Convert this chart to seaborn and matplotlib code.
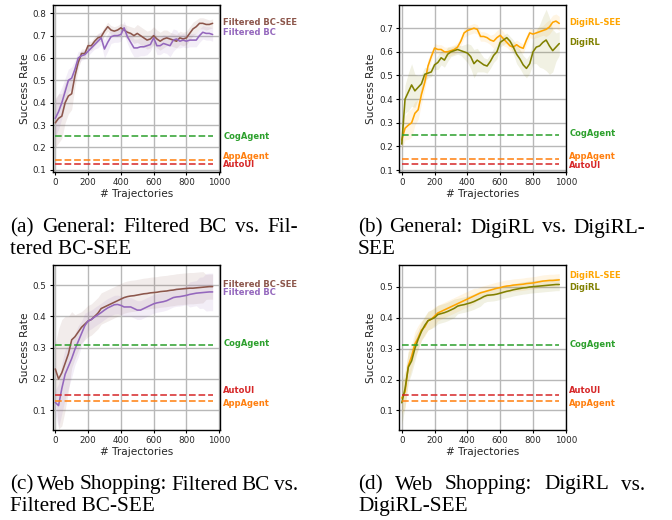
import numpy as np
import pandas as pd
import matplotlib
matplotlib.use("Agg")
import matplotlib.pyplot as plt
import matplotlib.transforms as mtransforms
import seaborn as sns

# ---------------- data ----------------
traj = np.arange(0, 980, 20)

a_see = [0.31,0.33,0.34,0.40,0.43,0.44,0.52,0.58,0.62,0.62,0.655,0.655,0.675,0.69,0.695,0.72,0.74,0.725,0.72,0.725,
         0.735,0.725,0.715,0.71,0.70,0.71,0.70,0.69,0.68,0.685,0.70,0.685,0.675,0.685,0.69,0.685,0.68,0.675,0.69,0.685,
         0.69,0.71,0.73,0.74,0.755,0.755,0.75,0.75,0.755]
a_see_sd = [0.11,0.11,0.10,0.09,0.08,0.07,0.05,0.03,0.02,0.02,0.02,0.02,0.02,0.02,0.02,0.02,0.02,0.02,0.02,0.02,
            0.02,0.025,0.03,0.03,0.035,0.04,0.04,0.04,0.04,0.04,0.04,0.04,0.04,0.04,0.035,0.03,0.03,0.03,0.03,0.03,
            0.03,0.03,0.03,0.03,0.025,0.025,0.025,0.02,0.02]
a_bc = [0.33,0.36,0.40,0.45,0.50,0.51,0.55,0.60,0.61,0.615,0.63,0.645,0.66,0.675,0.69,0.64,0.67,0.695,0.70,0.70,
        0.705,0.735,0.695,0.67,0.645,0.645,0.65,0.65,0.655,0.66,0.69,0.655,0.655,0.665,0.66,0.655,0.68,0.685,0.675,0.68,
        0.675,0.68,0.68,0.68,0.70,0.715,0.71,0.71,0.705]
a_bc_sd = [0.08,0.08,0.07,0.06,0.05,0.05,0.04,0.03,0.02,0.02,0.02,0.02,0.02,0.03,0.03,0.04,0.04,0.03,0.03,0.03,
           0.03,0.03,0.03,0.04,0.04,0.04,0.04,0.04,0.04,0.03,0.03,0.04,0.04,0.04,0.04,0.05,0.05,0.04,0.03,0.03,
           0.03,0.03,0.03,0.03,0.03,0.03,0.03,0.03,0.03]

b_see = [0.227,0.277,0.29,0.30,0.34,0.355,0.42,0.47,0.54,0.58,0.616,0.61,0.61,0.60,0.60,0.605,0.61,0.62,0.645,0.68,
         0.69,0.695,0.70,0.695,0.665,0.665,0.66,0.65,0.645,0.66,0.67,0.655,0.64,0.625,0.62,0.63,0.62,0.615,0.65,0.68,
         0.675,0.68,0.685,0.69,0.695,0.705,0.725,0.73,0.72]
b_see_sd = [0.04,0.05,0.06,0.06,0.05,0.04,0.04,0.03,0.03,0.02,0.02,0.02,0.02,0.02,0.02,0.02,0.02,0.02,0.02,0.02,
            0.02,0.02,0.02,0.02,0.02,0.02,0.02,0.02,0.03,0.03,0.03,0.03,0.02,0.02,0.02,0.02,0.02,0.02,0.02,0.02,
            0.02,0.02,0.02,0.02,0.03,0.03,0.03,0.03,0.03]
b_rl = [0.21,0.40,0.43,0.46,0.435,0.45,0.465,0.505,0.51,0.515,0.545,0.555,0.575,0.565,0.59,0.60,0.605,0.61,0.605,0.60,
        0.595,0.58,0.55,0.565,0.555,0.545,0.54,0.56,0.585,0.60,0.64,0.65,0.66,0.645,0.62,0.59,0.57,0.545,0.53,0.55,
        0.60,0.62,0.625,0.64,0.65,0.625,0.605,0.62,0.635]
b_rl_sd = [0.03,0.06,0.08,0.09,0.07,0.05,0.04,0.03,0.02,0.02,0.02,0.03,0.03,0.03,0.03,0.02,0.02,0.02,0.02,0.03,
           0.04,0.05,0.06,0.05,0.04,0.03,0.03,0.03,0.03,0.03,0.02,0.02,0.02,0.02,0.03,0.04,0.04,0.04,0.04,0.04,
           0.05,0.07,0.09,0.11,0.13,0.12,0.09,0.06,0.05]

c_see = [0.232,0.20,0.22,0.25,0.28,0.325,0.335,0.35,0.365,0.375,0.385,0.39,0.40,0.41,0.425,0.43,0.435,0.44,0.445,0.45,
         0.455,0.46,0.463,0.465,0.466,0.468,0.47,0.472,0.473,0.475,0.476,0.477,0.479,0.48,0.481,0.483,0.484,0.486,0.487,0.488,
         0.489,0.49,0.49,0.491,0.492,0.493,0.494,0.495,0.495]
c_see_sd = [0.08,0.16,0.17,0.15,0.12,0.09,0.07,0.06,0.05,0.05,0.05,0.05,0.05,0.05,0.05,0.05,0.05,0.05,0.05,0.05,
            0.05,0.05,0.05,0.05,0.05,0.05,0.05,0.05,0.05,0.05,0.05,0.05,0.05,0.05,0.05,0.05,0.05,0.05,0.05,0.05,
            0.05,0.05,0.05,0.05,0.05,0.05,0.04,0.04,0.04]
c_bc = [0.125,0.115,0.17,0.215,0.24,0.265,0.295,0.32,0.345,0.37,0.385,0.39,0.398,0.405,0.412,0.42,0.427,0.432,0.437,0.438,
        0.435,0.43,0.43,0.43,0.425,0.42,0.42,0.425,0.43,0.435,0.44,0.443,0.445,0.447,0.45,0.455,0.46,0.462,0.463,0.465,
        0.467,0.47,0.472,0.474,0.475,0.476,0.477,0.478,0.478]
c_bc_sd = [0.04,0.07,0.08,0.08,0.07,0.06,0.05,0.05,0.04,0.04,0.03,0.03,0.03,0.03,0.03,0.03,0.03,0.03,0.03,0.03,
           0.03,0.03,0.03,0.03,0.03,0.03,0.03,0.03,0.03,0.03,0.03,0.03,0.03,0.03,0.03,0.03,0.03,0.03,0.03,0.03,
           0.03,0.04,0.04,0.04,0.05,0.05,0.06,0.06,0.06]

d_see = [0.14,0.16,0.245,0.275,0.315,0.335,0.36,0.37,0.39,0.395,0.405,0.415,0.42,0.425,0.43,0.435,0.44,0.445,0.45,0.455,
         0.46,0.465,0.47,0.475,0.48,0.483,0.486,0.489,0.492,0.495,0.497,0.50,0.502,0.503,0.505,0.506,0.507,0.508,0.51,0.511,
         0.512,0.514,0.516,0.518,0.519,0.52,0.52,0.521,0.522]
d_see_sd = [0.05,0.05,0.05,0.04,0.04,0.04,0.03,0.03,0.03,0.03,0.03,0.025,0.025,0.025,0.025,0.025,0.025,0.025,0.025,0.025,
            0.025,0.025,0.025,0.02,0.02,0.02,0.02,0.02,0.02,0.02,0.02,0.02,0.02,0.02,0.02,0.02,0.02,0.02,0.02,0.02,
            0.02,0.02,0.02,0.02,0.02,0.02,0.02,0.02,0.02]
d_rl = [0.125,0.17,0.24,0.26,0.30,0.33,0.355,0.375,0.39,0.395,0.40,0.41,0.413,0.416,0.42,0.425,0.43,0.437,0.44,0.442,
        0.445,0.448,0.452,0.457,0.462,0.468,0.472,0.473,0.474,0.476,0.479,0.482,0.485,0.487,0.49,0.492,0.494,0.496,0.497,0.499,
        0.50,0.501,0.502,0.503,0.504,0.505,0.506,0.507,0.507]
d_rl_sd = [0.07,0.06,0.05,0.04,0.04,0.03,0.03,0.03,0.03,0.03,0.03,0.03,0.03,0.03,0.03,0.03,0.03,0.025,0.025,0.025,
           0.025,0.025,0.025,0.025,0.025,0.02,0.02,0.02,0.02,0.02,0.02,0.02,0.02,0.02,0.02,0.02,0.02,0.02,0.02,0.02,
           0.02,0.02,0.02,0.02,0.02,0.02,0.02,0.02,0.02]

baseline_names = ["CogAgent", "AppAgent", "AutoUI"]
general_baselines = [0.25, 0.145, 0.125]
shopping_baselines = [0.31, 0.13, 0.15]

captions = [
    ("(a) General: Filtered BC vs. Fil-", "tered BC-SEE"),
    ("(b) General: DigiRL vs. DigiRL-", "SEE"),
    ("(c) Web Shopping: Filtered BC vs.", "Filtered BC-SEE"),
    ("(d) Web Shopping: DigiRL vs.", "DigiRL-SEE"),
]

# ---------------- style ----------------
sns.set_theme(style="ticks")
plt.rcParams["font.family"] = ["DejaVu Sans"]

C_BROWN, C_PURPLE = "#8c564b", "#9467bd"
C_ORANGE, C_OLIVE = "#ffa500", "#808000"
BASE_COLORS = {"CogAgent": "#2ca02c", "AppAgent": "#ff7f0e", "AutoUI": "#d62728"}

W, H = 672, 520
fig = plt.figure(figsize=(W / 100, H / 100), dpi=100)


def px_axes(l, t, r, b):
    return fig.add_axes([l / W, 1 - b / H, (r - l) / W, (b - t) / H])


def draw_panel(ax, series, bvals, ylim, yticks, xlim, label_y, base_label_y):
    x = traj
    for name, mean, sd, color in series:
        mean = np.asarray(mean); sd = np.asarray(sd)
        ax.fill_between(x, mean - sd, mean + sd, color=color, alpha=0.11, lw=0)
        df = pd.DataFrame({"x": x, "y": mean})
        sns.lineplot(data=df, x="x", y="y", ax=ax, color=color, lw=1.15)
    for nm, v in zip(baseline_names, bvals):
        ax.hlines(v, x[0], x[-1], colors=BASE_COLORS[nm], linestyles="--", lw=1.3, alpha=0.85)
    tr = mtransforms.blended_transform_factory(ax.transAxes, ax.transData)
    for (name, mean, sd, color), ly in zip(series, label_y):
        ax.text(1.02, ly, name, transform=tr, color=color, fontsize=6, fontweight="bold", va="center", ha="left")
    for nm, ly in zip(baseline_names, base_label_y):
        ax.text(1.02, ly, nm, transform=tr, color=BASE_COLORS[nm], fontsize=6, fontweight="bold", va="center", ha="left")
    ax.set_xlim(*xlim)
    ax.set_ylim(*ylim)
    ax.set_xticks([0, 200, 400, 600, 800, 1000])
    ax.set_yticks(yticks)
    ax.set_yticklabels([f"{t:.1f}" for t in yticks])
    ax.grid(True, color="#b8b8b8", lw=1.0)
    ax.set_axisbelow(True)
    ax.tick_params(labelsize=6.3, length=2.5, width=0.8, pad=2, color="black")
    ax.set_xlabel("# Trajectories", fontsize=7.6, labelpad=1.5)
    ax.set_ylabel("Success Rate", fontsize=7.6, labelpad=2)
    for s in ax.spines.values():
        s.set_color("black"); s.set_linewidth(1.0)


ax_a = px_axes(52.5, 5, 220, 172)
ax_b = px_axes(399.3, 5, 566, 172)
ax_c = px_axes(52.5, 265, 220, 430)
ax_d = px_axes(399.3, 265, 566, 430)

draw_panel(ax_a, [("Filtered BC-SEE", a_see, a_see_sd, C_BROWN), ("Filtered BC", a_bc, a_bc_sd, C_PURPLE)],
           general_baselines, (0.09, 0.837), [0.1, 0.2, 0.3, 0.4, 0.5, 0.6, 0.7, 0.8], (-17, 1005),
           [0.757, 0.712], [0.25, 0.158, 0.122])
draw_panel(ax_b, [("DigiRL-SEE", b_see, b_see_sd, C_ORANGE), ("DigiRL", b_rl, b_rl_sd, C_OLIVE)],
           general_baselines, (0.092, 0.798), [0.1, 0.2, 0.3, 0.4, 0.5, 0.6, 0.7], (-15, 1001),
           [0.723, 0.638], [0.253, 0.157, 0.121])
draw_panel(ax_c, [("Filtered BC-SEE", c_see, c_see_sd, C_BROWN), ("Filtered BC", c_bc, c_bc_sd, C_PURPLE)],
           shopping_baselines, (0.037, 0.564), [0.1, 0.2, 0.3, 0.4, 0.5], (-17, 1005),
           [0.502, 0.476], [0.313, 0.122, 0.163])
draw_panel(ax_d, [("DigiRL-SEE", d_see, d_see_sd, C_ORANGE), ("DigiRL", d_rl, d_rl_sd, C_OLIVE)],
           shopping_baselines, (0.037, 0.57), [0.1, 0.2, 0.3, 0.4, 0.5], (-15, 1001),
           [0.535, 0.498], [0.314, 0.122, 0.165])

# ---------------- captions (justified first line) ----------------
CAP_FONT = dict(family="Liberation Serif", fontsize=15.3, color="black")
renderer = fig.canvas.get_renderer()


def justified_line(text, x0, x1, y):
    words = text.split()
    objs = [fig.text(0, 1 - y / H, w, va="baseline", ha="left", **CAP_FONT) for w in words]
    widths = [o.get_window_extent(renderer).width for o in objs]
    gap = (x1 - x0 - sum(widths)) / (len(words) - 1)
    x = x0
    for o, w in zip(objs, widths):
        o.set_x(x / W)
        x += w + gap


def plain_line(text, x0, y):
    fig.text(x0 / W, 1 - y / H, text, va="baseline", ha="left", **CAP_FONT)


cap_pos = [(10, 298, 232.5), (358, 645, 232.5), (10, 298, 489.5), (358, 645, 489.5)]
for (l1, l2), (x0, x1, y) in zip(captions, cap_pos):
    justified_line(l1, x0, x1, y)
    plain_line(l2, x0, y + 21.5)

fig.savefig("out.png", dpi=100)
